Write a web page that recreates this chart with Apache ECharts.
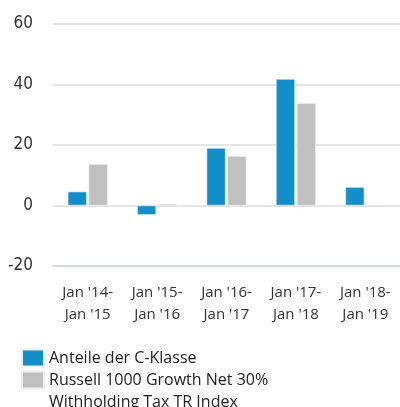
<!DOCTYPE html>
<html>
<head>
<meta charset="utf-8">
<script src="https://cdn.jsdelivr.net/npm/echarts@6/dist/echarts.min.js"></script>
<style>
  html, body { margin: 0; padding: 0; background: #fff; }
  #main { width: 400px; height: 407px; }
</style>
</head>
<body>
<div id="main"></div>
<script>
// Zeiträume (x-Achse)
const periods = ["Jan '14-\nJan '15", "Jan '15-\nJan '16", "Jan '16-\nJan '17", "Jan '17-\nJan '18", "Jan '18-\nJan '19"];
// Renditen in %
const cKlasse = [4.6, -3.1, 19.0, 41.8, 6.1];
const russell = [13.7, 0.5, 16.3, 33.8, -0.5];
const seriesNames = ['Anteile der C-Klasse', 'Russell 1000 Growth Net 30%\nWithholding Tax TR Index'];
const yTicks = { min: -20, max: 60, interval: 20 };

var chartDom = document.getElementById('main');
var myChart = echarts.init(chartDom);
var option = {
  animation: false,
  color: ['#138ec8', '#c0c0c0'],
  grid: { left: 53, right: -3, top: 24, bottom: 141 },
  legend: {
    orient: 'vertical',
    left: 21,
    top: 347,
    height: 120,
    padding: 0,
    itemWidth: 22,
    itemHeight: 17,
    itemGap: -22,
    itemTextGap: 7,
    icon: 'rect',
    selectedMode: false,
    data: seriesNames,
    // leere erste Zeile, damit die erste Textzeile neben dem Symbol steht
    formatter: function (name) {
      return name.indexOf('\n') >= 0 ? '\n' + name : name;
    },
    textStyle: {
      fontFamily: 'Open Sans',
      fontSize: 16,
      color: '#222',
      lineHeight: 22
    }
  },
  xAxis: {
    type: 'category',
    data: periods,
    axisLine: { show: true, onZero: false, lineStyle: { color: '#c9d6e0', width: 1.5 } },
    axisTick: { show: false },
    axisLabel: {
      margin: 16,
      fontFamily: 'Open Sans',
      fontSize: 15,
      lineHeight: 22,
      color: '#333'
    }
  },
  yAxis: {
    type: 'value',
    min: yTicks.min,
    max: yTicks.max,
    interval: yTicks.interval,
    axisLine: { show: false },
    axisTick: { show: false },
    splitLine: { lineStyle: { color: '#dcdcdc', width: 1.5 } },
    axisLabel: {
      margin: 20,
      fontFamily: 'DejaVu Sans Condensed',
      fontSize: 17,
      color: '#333'
    }
  },
  series: [
    {
      name: seriesNames[0],
      type: 'bar',
      data: cKlasse,
      barWidth: 19,
      barGap: '10%',
      itemStyle: { borderColor: '#e8f3fa', borderWidth: 0.6 }
    },
    {
      name: seriesNames[1],
      type: 'bar',
      data: russell,
      barWidth: 19,
      itemStyle: { borderColor: '#eeeeee', borderWidth: 0.6 }
    }
  ]
};
myChart.setOption(option);
</script>
</body>
</html>
